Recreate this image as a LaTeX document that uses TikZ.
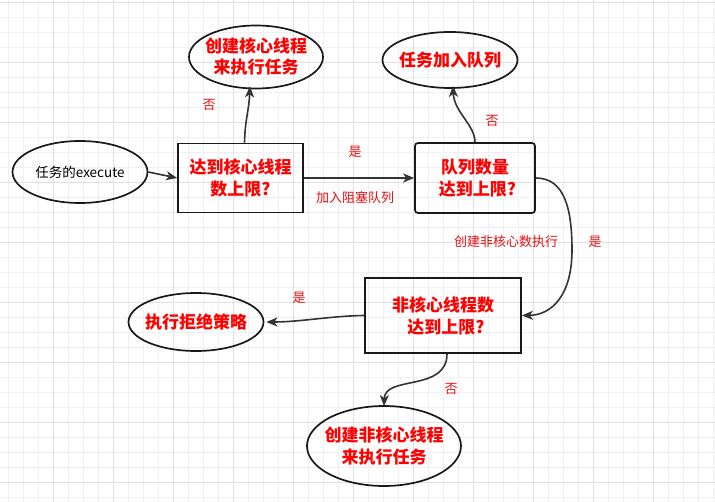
\documentclass[tikz,border=0pt]{standalone}
\usepackage{fontspec}
\setmainfont{Noto Sans CJK SC}
\usetikzlibrary{shapes.geometric,arrows.meta}
\definecolor{gridminor}{HTML}{F0F0F0}
\definecolor{gridmajor}{HTML}{E0E0E0}
\definecolor{txtred}{HTML}{FF0000}
\definecolor{lblred}{HTML}{E81010}
\definecolor{linec}{HTML}{333333}
\tikzset{
  bigtxt/.style={font=\fontsize{17}{22}\selectfont\bfseries, text=txtred, align=center},
  oval/.style={ellipse, draw=black!90, line width=1.7pt, inner sep=-15pt},
  boxsq/.style={rectangle, draw=black!90, line width=1.7pt, inner sep=0pt},
  lbl/.style={font=\fontsize{13}{15}\selectfont, text=lblred, inner sep=0pt},
  conn/.style={draw=linec, line width=1.6pt, -{Stealth[length=11pt,width=9pt,inset=3pt]}},
}
\begin{document}
\begin{tikzpicture}[x=1pt,y=-1pt]
\useasboundingbox (0,0) rectangle (715,502);
\fill[white] (0,0) rectangle (715,502);
% grid
\foreach \i in {0,...,47} {\draw[gridminor, line width=0.8pt] ({8.3+15*\i},0) -- ({8.3+15*\i},502);}
\foreach \j in {0,...,33} {\draw[gridminor, line width=0.8pt] (0,{2.7+15*\j}) -- (715,{2.7+15*\j});}
\foreach \i in {0,...,11} {\draw[gridmajor, line width=0.8pt] ({-6.7+60*\i},0) -- ({-6.7+60*\i},502);}
\foreach \j in {0,...,8} {\draw[gridmajor, line width=0.8pt] (0,{2.7+60*\j}) -- (715,{2.7+60*\j});}

% nodes
\node[oval, minimum width=135pt, minimum height=62pt, font=\fontsize{13.5}{15}\selectfont] (exec) at (80,172) {任务的execute};
\node[boxsq, minimum width=125pt, minimum height=69pt, bigtxt] (r1) at (240.5,178) {达到核心线程\\数上限?};
\node[oval, minimum width=134pt, minimum height=63pt, bigtxt, font=\fontsize{17}{21}\selectfont\bfseries] (e1) at (256,57) {创建核心线程\\来执行任务};
\node[oval, minimum width=135pt, minimum height=56pt, bigtxt] (e2) at (450,60) {任务加入队列};
\node[boxsq, rounded corners=3pt, minimum width=120pt, minimum height=70pt, bigtxt] (r2) at (475,178) {队列数量\\\hspace*{5pt}达到上限?};
\node[boxsq, minimum width=156pt, minimum height=75pt, bigtxt] (r3) at (443,315.5) {非核心线程数\\\hspace*{6pt}达到上限?};
\node[oval, minimum width=135pt, minimum height=58pt, bigtxt] (e3) at (196,322) {执行拒绝策略};
\node[oval, minimum width=154pt, minimum height=80pt, bigtxt] (e4) at (384,446) {创建非核心线程\\来执行任务};

\coordinate (c1) at (572,250);

% connectors
\draw[conn] (exec.east) -- (r1.west);
\draw[conn] ([xshift=4pt]r1.north) .. controls (245,120) and (249,110) .. ([xshift=-6pt,yshift=3pt]e1.south);
\draw[conn] (r1.east) -- (r2.west);
\draw[conn] (r2.north) .. controls (475,125) and (454,112) .. ([xshift=3pt,yshift=3pt]e2.south);
\draw[conn] ([yshift=0pt]r2.east) .. controls (565,178) and (572,210) .. (c1) .. controls (572,295) and (552,315) .. (r3.east);
\draw[conn] (r3.west) .. controls (330,316) and (300,322) .. ([xshift=2pt]e3.east);
\draw[conn] ([xshift=4pt]r3.south) .. controls (447,392) and (385,375) .. ([yshift=-1pt]e4.north);

% labels
\node[lbl] (l1) at (209,105) {否};
\node[lbl] (l2) at (355,152) {是};
\node[lbl] (l3) at (355,198) {加入阻塞队列};
\node[lbl] (l4) at (492,121) {否};
\node[lbl] (l5) at (506,242) {创建非核心数执行};
\node[lbl] (l6) at (595,242) {是};
\node[lbl] (l7) at (299,298) {是};
\node[lbl] (l8) at (451,389) {否};
\end{tikzpicture}
\end{document}
